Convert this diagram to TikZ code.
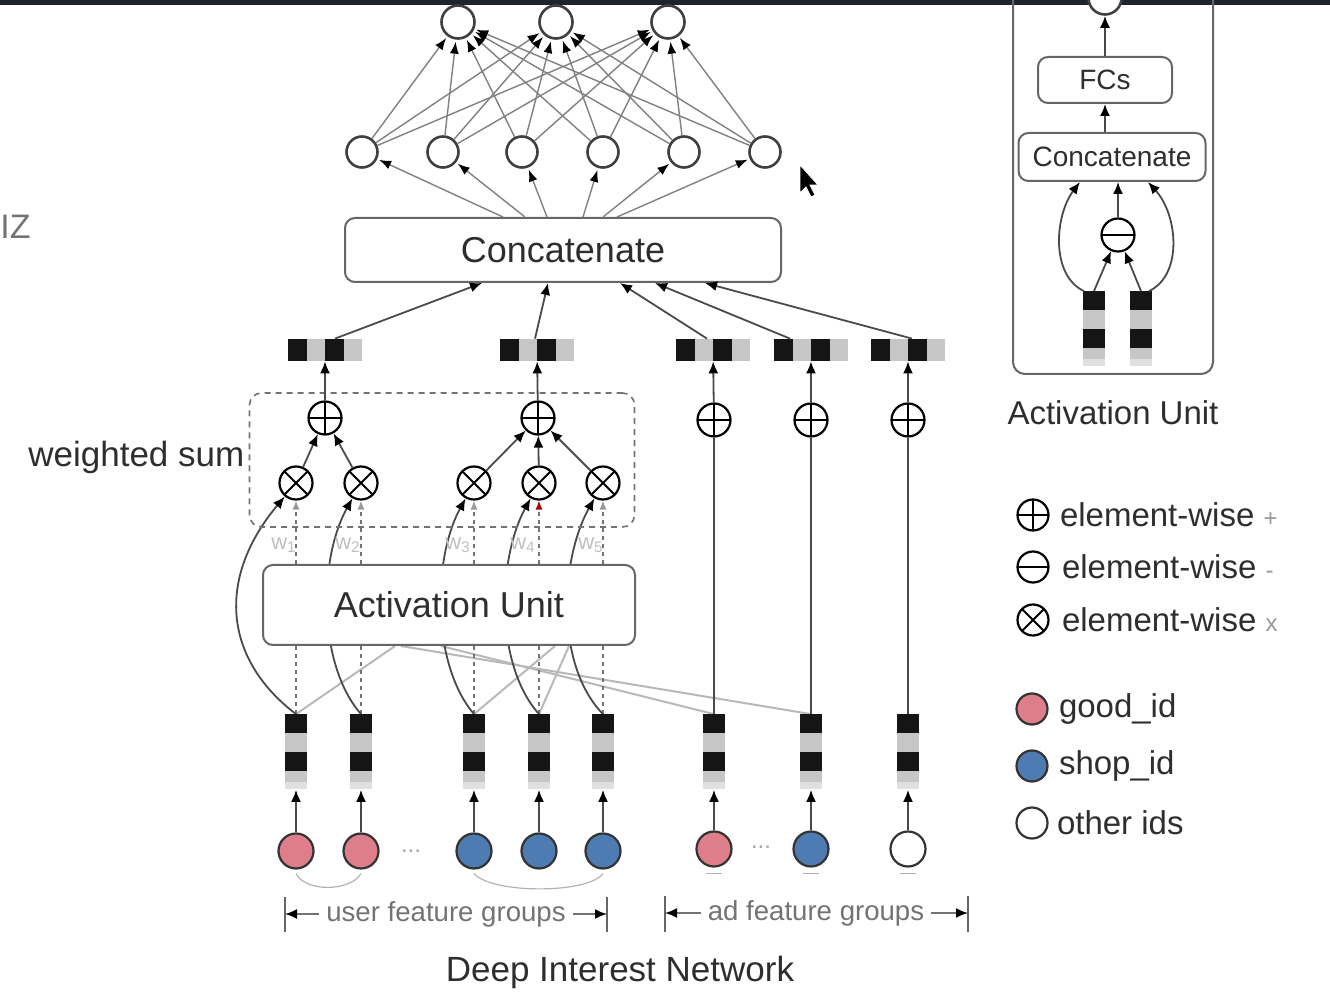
\documentclass[tikz,border=0pt]{standalone}
\usepackage{fontspec}
\setmainfont{Liberation Sans}
\usetikzlibrary{arrows.meta,positioning}
\pgfdeclarelayer{background}
\pgfsetlayers{background,main}
\definecolor{linegray}{HTML}{4A4A4A}
\definecolor{cellgray}{HTML}{C6C6C6}
\definecolor{cellblack}{HTML}{151515}
\definecolor{goodpink}{HTML}{DE7E8B}
\definecolor{shopblue}{HTML}{4E7CB2}
\definecolor{inkgray}{HTML}{2E2E2E}
\definecolor{topbar}{HTML}{1F232B}

\begin{document}
\begin{tikzpicture}[x=0.5pt, y=-0.5pt,
    neuron/.style={circle, draw=black!75, line width=1.3pt, fill=white, minimum size=15.5pt, inner sep=0pt},
    idnode/.style={circle, draw=black!80, line width=1.1pt, minimum size=17.5pt, inner sep=0pt},
    box/.style={draw=black!60, line width=1pt, rounded corners=5pt, fill=white, text=inkgray, font=\fontsize{18}{21}\selectfont},
    smallbox/.style={box, font=\fontsize{14}{17}\selectfont},
    wsum/.style={draw=black!55, dash pattern=on 3pt off 2.5pt, line width=0.8pt, rounded corners=6pt, minimum width=192.5pt, minimum height=67pt, inner sep=0pt},
    label/.style={text=inkgray, font=\fontsize{17.5}{20}\selectfont},
    legendtext/.style={text=inkgray, font=\fontsize{16.5}{19}\selectfont, inner sep=1pt},
    grouptext/.style={text=black!55, font=\fontsize{13.8}{16}\selectfont},
    wlabel/.style={text=black!25, font=\fontsize{11}{13}\selectfont},
    opbase/.style={circle, draw=black, line width=1.1pt, fill=white, minimum size=16.5pt, inner sep=0pt},
    oplus/.style={opbase, path picture={\draw[line width=1pt] (path picture bounding box.north) -- (path picture bounding box.south) (path picture bounding box.west) -- (path picture bounding box.east);}},
    ominus/.style={opbase, path picture={\draw[line width=1pt] (path picture bounding box.west) -- (path picture bounding box.east);}},
    otimes/.style={opbase, path picture={\draw[line width=1pt] ([shift={(-10pt,-10pt)}]path picture bounding box.center) -- ([shift={(10pt,10pt)}]path picture bounding box.center) ([shift={(-10pt,10pt)}]path picture bounding box.center) -- ([shift={(10pt,-10pt)}]path picture bounding box.center);}},
    vemb/.style={rectangle, inner sep=0pt, minimum width=11pt, minimum height=37.5pt, fill=cellgray, path picture={
        \fill[cellblack] (path picture bounding box.north west) rectangle ([yshift=-9.4pt]path picture bounding box.north east);
        \fill[cellblack] ([yshift=-18.8pt]path picture bounding box.north west) rectangle ([yshift=-28.2pt]path picture bounding box.north east);
        \fill[black!12] ([yshift=-34pt]path picture bounding box.north west) rectangle (path picture bounding box.south east);}},
    hemb/.style={rectangle, inner sep=0pt, minimum width=37pt, minimum height=11pt, fill=cellgray, path picture={
        \fill[cellblack] (path picture bounding box.north west) rectangle ([xshift=9.25pt]path picture bounding box.south west);
        \fill[cellblack] ([xshift=18.5pt]path picture bounding box.north west) rectangle ([xshift=27.75pt]path picture bounding box.south west);}},
    conn/.style={draw=linegray, line width=0.9pt, -{Latex[length=6pt,width=5pt,color=black]}},
    fc/.style={draw=black!50, line width=0.7pt, -{Latex[length=6pt,width=4.5pt,color=black]}, shorten >=1pt},
    plain/.style={draw=linegray, line width=0.9pt},
    dline/.style={draw=black!55, line width=0.6pt, dash pattern=on 2pt off 2pt},
    faintline/.style={draw=black!28, line width=1pt},
    brace/.style={draw=black!30, line width=0.6pt}
]
    \useasboundingbox (0,0) rectangle (1330,994);
    \fill[topbar] (0,0) rectangle (1330,5);
    \node[anchor=west, text=black!55, font=\fontsize{17}{20}\selectfont, inner sep=0pt] (edgetext) at (0,227) {IZ};

    \node[neuron, minimum size=16.5pt] (o1) at (458,22) {};
    \node[neuron, minimum size=16.5pt] (o2) at (556,22) {};
    \node[neuron, minimum size=16.5pt] (o3) at (668,22) {};
    \node[neuron] (h1) at (362,152) {};
    \node[neuron] (h2) at (443,152) {};
    \node[neuron] (h3) at (522,152) {};
    \node[neuron] (h4) at (603,152) {};
    \node[neuron] (h5) at (684,152) {};
    \node[neuron] (h6) at (765,152) {};
    \node[box, minimum width=218pt, minimum height=32pt] (concat) at (563,250) {Concatenate};

    \node[hemb] (p1) at (325,350) {};
    \node[hemb] (p2) at (537,350) {};
    \node[hemb] (p3) at (713,350) {};
    \node[hemb] (p4) at (811,350) {};
    \node[hemb] (p5) at (908,350) {};

    \node[wsum] (ws) at (442,460) {};
    \node[label, anchor=east, inner sep=2pt] (wstext) at ([yshift=1.5pt]ws.west) {weighted sum};
    \node[oplus] (s1) at (325,418) {};
    \node[oplus] (s2) at (538,418) {};
    \node[oplus] (s3) at (714,420) {};
    \node[oplus] (s4) at (811,420) {};
    \node[oplus] (s5) at (908,420) {};
    \node[otimes] (t1) at (296,483) {};
    \node[otimes] (t2) at (361,483) {};
    \node[otimes] (t3) at (474,483) {};
    \node[otimes] (t4) at (539,483) {};
    \node[otimes] (t5) at (603,483) {};
    \node[wlabel] (w1) at (284,545) {w\textsubscript{1}};
    \node[wlabel] (w2) at (348,545) {w\textsubscript{2}};
    \node[wlabel] (w3) at (458,545) {w\textsubscript{3}};
    \node[wlabel] (w4) at (523,545) {w\textsubscript{4}};
    \node[wlabel] (w5) at (591,545) {w\textsubscript{5}};

    \node[box, minimum width=186pt, minimum height=40pt] (au) at (449,605) {Activation Unit};

    \node[vemb] (u1) at (296,752) {};
    \node[vemb] (u2) at (361,752) {};
    \node[vemb] (u3) at (474,752) {};
    \node[vemb] (u4) at (539,752) {};
    \node[vemb] (u5) at (603,752) {};
    \node[vemb] (a1) at (714,752) {};
    \node[vemb] (a2) at (811,752) {};
    \node[vemb] (a3) at (908,752) {};

    \node[idnode, fill=goodpink] (g1) at (296,851) {};
    \node[idnode, fill=goodpink] (g2) at (361,851) {};
    \node[text=black!35, font=\fontsize{12}{14}\selectfont] (udots) at (411,851) {...};
    \node[idnode, fill=shopblue] (b1) at (474,851) {};
    \node[idnode, fill=shopblue] (b2) at (539,851) {};
    \node[idnode, fill=shopblue] (b3) at (603,851) {};
    \node[idnode, fill=goodpink] (ga) at (714,849) {};
    \node[text=black!35, font=\fontsize{12}{14}\selectfont] (adots) at (761,847) {...};
    \node[idnode, fill=shopblue] (ba) at (811,849) {};
    \node[idnode, fill=white] (oa) at (908,849) {};

    \node[grouptext] (ufg) at (446,914) {user feature groups};
    \coordinate (ubl) at (285,914);
    \coordinate (ubr) at (607,914);
    \node[grouptext] (afg) at (816,913) {ad feature groups};
    \coordinate (abl) at (665,913);
    \coordinate (abr) at (968,913);
    \node[label] (title) at (620,972) {Deep Interest Network};

    \foreach \i in {1,...,6}
        \foreach \j in {1,2,3}
            \draw[fc] (h\i) -- (o\j);
    \draw[fc] ([xshift=-30pt]concat.north) -- (h1);
    \draw[fc] ([xshift=-19pt]concat.north) -- (h2);
    \draw[fc] ([xshift=-8pt]concat.north) -- (h3);
    \draw[fc] ([xshift=10pt]concat.north) -- (h4);
    \draw[fc] ([xshift=20pt]concat.north) -- (h5);
    \draw[fc] ([xshift=27pt]concat.north) -- (h6);
    \draw[conn] ([xshift=5pt]p1.north) -- ([xshift=-40.5pt]concat.south);
    \draw[conn] ([xshift=-1pt]p2.north) -- ([xshift=-7.5pt]concat.south);
    \draw[conn] ([xshift=-3pt]p3.north) -- ([xshift=28.5pt]concat.south);
    \draw[conn] ([xshift=-10.5pt]p4.north) -- ([xshift=46pt]concat.south);
    \draw[conn] ([xshift=2pt]p5.north) -- ([xshift=71pt]concat.south);
    \draw[conn] (s1) -- (p1);
    \draw[conn] (s2) -- (p2);
    \draw[conn] (s3) -- (p3);
    \draw[conn] (s4) -- (p4);
    \draw[conn] (s5) -- (p5);
    \draw[conn] (t1) -- (s1);
    \draw[conn] (t2) -- (s1);
    \draw[conn] (t3) -- (s2);
    \draw[conn] (t4) -- (s2);
    \draw[conn] (t5) -- (s2);
    \draw[plain] (a1) -- (s3);
    \draw[plain] (a2) -- (s4);
    \draw[plain] (a3) -- (s5);
    \draw[conn] (g1) -- (u1);
    \draw[conn] (g2) -- (u2);
    \draw[conn] (b1) -- (u3);
    \draw[conn] (b2) -- (u4);
    \draw[conn] (b3) -- (u5);
    \draw[conn] (ga) -- (a1);
    \draw[conn] (ba) -- (a2);
    \draw[conn] (oa) -- (a3);

    \begin{pgfonlayer}{background}
        \draw[faintline] (u1.north) -- ([xshift=-27pt]au.south);
        \draw[faintline] (u3.north) -- ([xshift=53pt]au.south);
        \draw[faintline] (u4.north) -- ([xshift=60pt]au.south);
        \draw[faintline] (a1.north) -- ([xshift=-4pt]au.south);
        \draw[faintline] (a2.north) -- ([xshift=-24pt]au.south);
        \draw[dline] (u1.north) -- (u1.north |- au.south);
        \draw[dline] (u2.north) -- (u2.north |- au.south);
        \draw[dline] (u3.north) -- (u3.north |- au.south);
        \draw[dline] (u4.north) -- (u4.north |- au.south);
        \draw[dline] (u5.north) -- (u5.north |- au.south);
        \draw[dline, -{Latex[length=4.5pt,width=3.5pt,color=black!40]}] (t1.south |- au.north) -- (t1.south);
        \draw[dline, -{Latex[length=4.5pt,width=3.5pt,color=black!40]}] (t2.south |- au.north) -- (t2.south);
        \draw[dline, -{Latex[length=4.5pt,width=3.5pt,color=black!40]}] (t3.south |- au.north) -- (t3.south);
        \draw[dline, -{Latex[length=4.5pt,width=3.5pt,color=red!65!black]}] (t4.south |- au.north) -- (t4.south);
        \draw[dline, -{Latex[length=4.5pt,width=3.5pt,color=black!40]}] (t5.south |- au.north) -- (t5.south);
        \draw[conn] (u1.north) .. controls (225,660) and (215,580) .. (t1);
        \draw[conn] (u2.north) .. controls (318,665) and (318,560) .. (t2);
        \draw[conn] (u3.north) .. controls (432,665) and (432,560) .. (t3);
        \draw[conn] (u4.north) .. controls (495,665) and (497,560) .. (t4);
        \draw[conn] (u5.north) .. controls (555,665) and (560,560) .. (t5);
    \end{pgfonlayer}

    \draw[brace] ([yshift=-2pt]g1.south) .. controls (305,892) and (350,892) .. ([yshift=-2pt]g2.south);
    \draw[brace] ([yshift=-2pt]b1.south) .. controls (492,894) and (588,894) .. ([yshift=-2pt]b3.south);
    \draw[brace] ([shift={(-4pt,-3pt)}]ga.south) -- ([shift={(4pt,-3pt)}]ga.south);
    \draw[brace] ([shift={(-4pt,-3pt)}]ba.south) -- ([shift={(4pt,-3pt)}]ba.south);
    \draw[brace] ([shift={(-4pt,-3pt)}]oa.south) -- ([shift={(4pt,-3pt)}]oa.south);

    \draw[plain, black!60] (ubl) +(0,-17) -- +(0,18);
    \draw[plain, black!60] (ubr) +(0,-17) -- +(0,18);
    \draw[plain, black!60] (abl) +(0,-17) -- +(0,19);
    \draw[plain, black!60] (abr) +(0,-17) -- +(0,19);
    \draw[conn, draw=black!55] (ufg.west) -- (ubl);
    \draw[conn, draw=black!55] (ufg.east) -- (ubr);
    \draw[conn, draw=black!55] (afg.west) -- (abl);
    \draw[conn, draw=black!55] (afg.east) -- (abr);

    \draw[draw=black!60, line width=1pt, rounded corners=6pt] (1013,-40) rectangle (1213,374);
    \node[neuron, minimum size=16.5pt] (rtop) at (1105,-2) {};
    \node[smallbox, minimum width=67pt, minimum height=23pt] (fcs) at (1105,80) {FCs};
    \node[smallbox, minimum width=93.5pt, minimum height=24pt] (rcat) at (1112,157) {Concatenate};
    \node[ominus] (rmin) at (1118,235) {};
    \node[vemb] (e1) at (1094,329) {};
    \node[vemb] (e2) at (1141,329) {};
    \node[label, font=\fontsize{16.5}{19}\selectfont] (rautext) at (1113,413) {Activation Unit};
    \draw[conn] (e1.north) -- (rmin);
    \draw[conn] (e2.north) -- (rmin);
    \draw[conn] (rmin) -- (rmin |- rcat.south);
    \draw[conn] (fcs.south |- rcat.north) -- (fcs.south);
    \draw[conn] (fcs) -- (rtop);
    \draw[conn] ([xshift=-5pt]e1.north) .. controls (1050,275) and (1055,215) .. ([xshift=-16pt]rcat.south);
    \draw[conn] ([xshift=4pt]e2.north) .. controls (1183,275) and (1178,215) .. ([xshift=18pt]rcat.south);

    \node[oplus, minimum size=15.5pt] (lgplus) at (1033,515) {};
    \node[legendtext, right=4pt of lgplus] (lgplustext) {element-wise \textcolor{black!40}{\fontsize{12}{14}\selectfont +}};
    \node[ominus, minimum size=15.5pt] (lgminus) at (1033,567) {};
    \node[legendtext, right=5pt of lgminus] (lgminustext) {element-wise \textcolor{black!40}{\fontsize{12}{14}\selectfont -}};
    \node[otimes, minimum size=15.5pt] (lgtimes) at (1033,620) {};
    \node[legendtext, right=5pt of lgtimes] (lgtimestext) {element-wise \textcolor{black!40}{\fontsize{12}{14}\selectfont x}};
    \node[idnode, fill=goodpink, minimum size=15.5pt] (lggood) at (1032,709) {};
    \node[legendtext, right=4pt of lggood] (lggoodtext) {good\_id};
    \node[idnode, fill=shopblue, minimum size=15.5pt] (lgshop) at (1032,766) {};
    \node[legendtext, right=4pt of lgshop] (lgshoptext) {shop\_id};
    \node[idnode, fill=white, minimum size=15.5pt] (lgother) at (1032,823) {};
    \node[legendtext, right=3pt of lgother] (lgothertext) {other ids};

    \fill[black, draw=white, line width=0.4pt] (800,165) -- ++(0,28) -- ++(6,-6) -- ++(5,10) -- ++(4,-2) -- ++(-5,-10) -- ++(8,0) -- cycle;
\end{tikzpicture}
\end{document}
